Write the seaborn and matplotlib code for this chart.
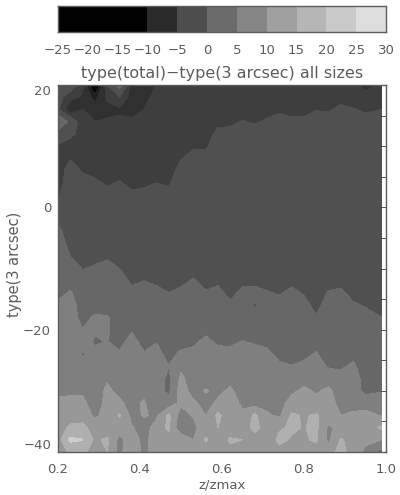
import numpy as np
import matplotlib
matplotlib.use('Agg')
import matplotlib.pyplot as plt
from matplotlib.colors import ListedColormap
import seaborn as sns

sns.set_theme(style="ticks")
plt.rcParams['font.family'] = ['DejaVu Sans']

ink = '#5c5c5c'

# colour bar
bar_values = [-22.5, -17.5, -12.5, -7.5, -2.5, 2.5, 7.5, 12.5, 17.5, 22.5, 27.5]
bar_colors = ['#000000', '#000000', '#000000', '#2a2a2a', '#4d4d4d', '#6b6b6b',
              '#868686', '#a0a0a0', '#b6b6b6', '#cacaca', '#dedede']
bar_labels = ['-25', '-20', '-15', '-10', '-5', '0', '5', '10', '15', '20', '25', '30']

# contour shades
levels = [-25, -14, -11, -8, -5, 0, 5, 10, 15, 20, 30]
shades = ['#050505', '#1e1e1e', '#303030', '#3e3e3e', '#505050', '#676767',
          '#7f7f7f', '#989898', '#b0b0b0', '#cdcdcd']

# grid
z_grid = [0.20, 0.23, 0.26, 0.29, 0.32, 0.35, 0.38, 0.41, 0.44, 0.47, 0.50, 0.53, 0.56, 0.59,
          0.62, 0.65, 0.68, 0.71, 0.74, 0.77, 0.80, 0.83, 0.86, 0.89, 0.92, 0.95, 0.99]
type_grid = [20, 18, 16, 14, 12, 10, 8, 6, 4, 2, 0, -2, -4, -6, -8, -10, -12, -14, -16, -18,
             -20, -22, -24, -26, -28, -30, -32, -34, -36, -38, -40]

# one list per z column, from type 20 down to type -40
c00 = [-3, -3.5, -4.5, 5, -2, -5.5, -7, -7, -7, -5.4, -3.4, -0.8, 1.2, 2.5, 2.5, 2.5, 2.5, 3.8, 5.8, 7.5, 7.5, 7.5, 7.5, 7.5, 7.5, 9, 11, 12.5, 12.5, 13, 12]
c01 = [-3, -7, -11, -1.5, -4, -7, -5.2, -3.2, -2.5, -2.5, -2.5, -2.5, -2.5, -1.5, 0, 2, 3.4, 5.4, 7.5, 7.5, 7.5, 7.5, 7.5, 7.5, 7.5, 9.2, 11.2, 12.5, 16, 21, 16]
c02 = [-7, -8.5, -8, -7.5, -6.5, -7, -7, -5.4, -3.4, -2.5, -2.5, -2.5, -2.5, -2.5, -2.5, -0.2, 1.8, 2.5, 2.5, 3.2, 5.2, 7.5, 4.5, 7.5, 7.5, 9.2, 11.2, 12.5, 16.5, 20.2, 15.5]
c03 = [-20, -12, -9.5, -8, -7, -7, -7, -6.2, -4.2, -2.5, -2.5, -2.5, -2.5, -2.5, -1.4, 0.6, 2.5, 2.5, 2.5, 5.8, 5.5, 4.4, 6.4, 7.5, 7.5, 7.5, 7.5, 9.2, 12.5, 14, 14]
c04 = [-5, -7.5, -9, -7.5, -7, -7, -7, -7, -5.6, -3.6, -2.5, -2.5, -2.5, -2, -0.6, 1.4, 2.5, 2.5, 2.5, 5.5, 5.5, 5.2, 7, 7.5, 9.5, 11, 11.5, 11.5, 11, 16, 15]
c05 = [2, -5, -8.5, -7.5, -7, -7, -7, -6.6, -4.6, -2.5, -2.5, -2.5, -2.5, -2.5, -2, 0, 2, 2.5, 2.5, 2.5, 2.5, 3.6, 5.6, 7.5, 7.5, 8.5, 11, 15.5, 12, 8.5, 8.5]
c06 = [-9.5, -9.5, -9, -7.5, -7, -7, -7, -7, -6.2, -4.2, -2.5, -2.5, -2.5, -2.5, -2.5, -2, -0.8, 1.2, 2.5, 2.5, 4.6, 6.6, 7.5, 7.5, 7.5, 7.5, 8, 8.4, 10.4, 12.5, 14]
c07 = [-9.5, -9, -8, -7.5, -7, -7, -7, -7, -5.8, -3.8, -2.5, -2.5, -2.5, -2.5, -2.5, -1.5, 0, 2, 2.5, 2.5, 2.5, 3.4, 5.4, 7.5, 7.5, 8, 10.8, 10.5, 8, 8.5, 8.5]
c08 = [-8, -7, -7, -7, -7, -7, -7, -7, -5, -3, -2.5, -2.5, -2.5, -2.5, -2.5, -2.5, -0.8, 1.2, 2.5, 2.5, 2.5, 4.8, 6.8, 7.5, 7.5, 7.5, 5, 9, 12, 12.5, 12.5]
c09 = [-7.5, -7, -7, -7, -7, -7, -7, -7, -5.6, -3.6, -2.5, -2.5, -2.5, -2.5, -2.5, -2.5, -2, 0, 2, 2.5, 2.5, 2.5, 3.2, 5.2, 3.8, 3.8, 7, 16, 16, 13, 12.5]
c10 = [-7.5, -7, -7, -7, -7, -7, -5.2, -3.2, -2.5, -2.5, -2.5, -2.5, -2.5, -2.5, -2.5, -2.5, -1, 1, 2.5, 2.5, 2.5, 3, 6, 9, 11, 12.5, 11, 7.5, 5.5, 14, 12]
c11 = [-7, -7, -7, -7, -7, -5.6, -3.6, -2.5, -2.5, -2.5, -2.5, -2.5, -2.5, -2.5, -2.5, -1.6, 0.4, 2.5, 2.5, 2.5, 2.5, 4.2, 6.2, 7.5, 7.5, 8, 11, 10.5, 8.5, 10, 12]
c12 = [-7, -7, -7, -7, -7, -5.6, -3.6, -2.5, -2.5, -2.5, -2.5, -2.5, -2.5, -2.5, -2.5, -2.5, -1.6, 0.4, 2.5, 2.5, 4, 6, 7.5, 7.5, 7.5, 10.5, 8, 10, 13, 15.5, 13]
c13 = [-7, -7, -7, -6, -4, -2.5, -2.5, -2.5, -2.5, -2.5, -2.5, -2.5, -2.5, -2.5, -2.5, -2.5, -0.8, 1.2, 2.5, 2.5, 2.5, 4.4, 6.4, 7.5, 7.5, 8.6, 11, 16, 15, 12.5, 13]
c14 = [-7, -7, -7, -5.8, -3.8, -2.5, -2.5, -2.5, -2.5, -2.5, -2.5, -2.5, -2.5, -2.5, -2.5, -2.5, -2.5, -1.2, 0.8, 2.5, 2.5, 4.2, 6.2, 7.5, 8, 11, 12.5, 12.5, 12.5, 15.5, 14]
c15 = [-7, -7, -6.8, -4.8, -2.5, -2.5, -2.5, -2.5, -2.5, -2.5, -2.5, -2.5, -2.5, -2.5, -2.5, -2.5, -1, 1, 2.5, 2.5, 3.2, 5.2, 7.5, 7.5, 7.5, 7.5, 9, 11, 12.5, 15, 13]
c16 = [-7, -7, -6, -5.4, -3.4, -2.5, -2.5, -2.5, -2.5, -2.5, -2.5, -2.5, -2.5, -2.5, -2.5, -2.5, -1.2, 1.5, -0.5, 1.5, 2.5, 4.6, 6.6, 7.5, 7.5, 7.5, 8, 16, 16.5, 13, 12.5]
c17 = [-7, -7, -6.4, -4.4, -2.5, -2.5, -2.5, -2.5, -2.5, -2.5, -2.5, -2.5, -2.5, -2.5, -2.5, -2.5, -1.6, 0.4, 2.5, 2.5, 2.5, 4, 6, 7.5, 7.5, 7.5, 8.6, 10.6, 12.5, 12.5, 13]
c18 = [-7, -7, -5.6, -3.6, -2.5, -2.5, -2.5, -2.5, -2.5, -2.5, -2.5, -2.5, -2.5, -2.5, -2.5, -2.5, -2.5, -0.4, 1.6, 2.5, 2.5, 2.5, 3.8, 5.8, 7.5, 7.5, 7.5, 9.2, 14.5, 16, 13.5]
c19 = [-7, -7, -6.2, -4.2, -2.5, -2.5, -2.5, -2.5, -2.5, -2.5, -2.5, -2.5, -2.5, -2.5, -2.5, -2.5, -1, 1, 2.5, 2.5, 2.5, 2.5, 3.2, 5.2, 7.5, 9, 12.5, 15.6, 15.6, 14.6, 13]
c20 = [-7, -7, -6.2, -4.2, -2.5, -2.5, -2.5, -2.5, -2.5, -2.5, -2.5, -2.5, -2.5, -2.5, -2.5, -2.5, -2.5, -0.4, 1.6, 2.5, 2.5, 2.5, 4, 6, 8.2, 11, 12.5, 14.6, 14.8, 14.6, 13]
c21 = [-7, -7, -5.2, -3.2, -2.5, -2.5, -2.5, -2.5, -2.5, -2.5, -2.5, -2.5, -2.5, -2.5, -2.5, -2.5, -2.5, -2.5, -1.6, 0.4, 2.5, 3.4, 5.4, 7.5, 7.5, 9.4, 11.4, 15.5, 16, 15.5, 13.5]
c22 = [-7, -7, -5.4, -3.4, -2.5, -2.5, -2.5, -2.5, -2.5, -2.5, -2.5, -2.5, -2.5, -2.5, -2.5, -2.5, -1.6, 0.4, 2.5, 2.5, 2.5, 2.5, 2.5, 4.4, 8, 11, 12.5, 12.5, 9, 9, 12.5]
c23 = [-7, -6.2, -4.2, -2.5, -2.5, -2.5, -2.5, -2.5, -2.5, -2.5, -2.5, -2.5, -2.5, -2.5, -2.5, -2.5, -1.2, 0.8, 2.5, 2.5, 2.5, 2.5, 2.5, 4.4, 6.4, 7.5, 8, 10, 12, 15.5, 17]
c24 = [-7, -6.8, -4.8, -2.5, -2.5, -2.5, -2.5, -2.5, -2.5, -2.5, -2.5, -2.5, -2.5, -2.5, -2.5, -2.5, -2.5, -1.4, 0.6, 2.5, 2.5, 2.5, 3.8, 5.8, 7.5, 7.5, 8.6, 10.6, 13, 13, 12.5]
c25 = [-9, -7, -5.6, -3.6, -2.5, -2.5, -2.5, -2.5, -2.5, -2.5, -2.5, -2.5, -2.5, -2.5, -2.5, -2.5, -2.5, -2.5, -0.4, 1.6, 2.5, 2.5, 2.5, 2.5, 3, 3.5, 8, 11.5, 12, 11, 9]
c26 = [-7.5, -6.5, -5, -3, -2.5, -2.5, -2.5, -2.5, -2.5, -2.5, -2.5, -2.5, -2.5, -2.5, -2.5, -2.5, -2.5, -2.5, -2, 0, 2, 2.5, 2.5, 2.5, 2.5, 4.8, 6.8, 9.6, 16, 10, 3]

columns = [c00, c01, c02, c03, c04, c05, c06, c07, c08, c09, c10, c11, c12, c13,
           c14, c15, c16, c17, c18, c19, c20, c21, c22, c23, c24, c25, c26]
grid = np.array(columns).T

fig = plt.figure(figsize=(4, 4.95), dpi=100)
cax = fig.add_axes([58 / 400, 1 - 32 / 495, 328 / 400, 26 / 495])
ax = fig.add_axes([58 / 400, 1 - 452 / 495, 328 / 400, 367 / 495])

# colour bar strip
sns.heatmap([bar_values], ax=cax, cmap=ListedColormap(bar_colors), cbar=False,
            xticklabels=False, yticklabels=False)
cax.set_xticks(np.arange(len(bar_labels)))
cax.set_xticklabels([t.replace('-', '\u2212') for t in bar_labels], fontsize=9.5, color=ink)
cax.set_yticks([])
cax.tick_params(axis='x', direction='in', length=4, width=0.6, color='#333333',
                top=True, bottom=True, pad=8.5)
for s in cax.spines.values():
    s.set_visible(True)
    s.set_color(ink)
    s.set_linewidth(1)

# main contours
ax.contourf(z_grid, type_grid, grid, levels=levels, colors=shades)
ax.set_xlim(0.2, 1.0)
ax.set_ylim(-40, 20)
ax.set_xticks([0.2, 0.4, 0.6, 0.8, 1.0])
ax.set_yticks([-40, -20, 0, 20])
ax.set_yticklabels(['\u221240', '\u221220', '0', '20'])
ax.set_xticks(np.arange(0.2, 1.0, 0.05), minor=True)
ax.set_yticks(np.arange(-40, 20, 5), minor=True)
ax.tick_params(which='major', direction='in', length=8, width=0.6, color='#333333',
               top=True, right=True, labelsize=9.5, labelcolor=ink, pad=8)
ax.tick_params(which='minor', direction='in', length=4, width=0.6, color='#333333',
               top=True, right=True)
ax.tick_params(axis='y', which='major', pad=5)
ax.get_yticklabels()[0].set_va('bottom')
ax.get_yticklabels()[-1].set_va('top')
for s in ax.spines.values():
    s.set_visible(True)
    s.set_color(ink)
    s.set_linewidth(1)

ax.set_xlabel('z/zmax', fontsize=9.5, color=ink, labelpad=2)
ax.set_ylabel('type(3 arcsec)', fontsize=10.5, color=ink, labelpad=1, y=0.51)
ax.set_title('type(total)\u2212type(3 arcsec) all sizes', fontsize=11.5, color=ink, pad=5)

fig.savefig('out.png', dpi=100)
